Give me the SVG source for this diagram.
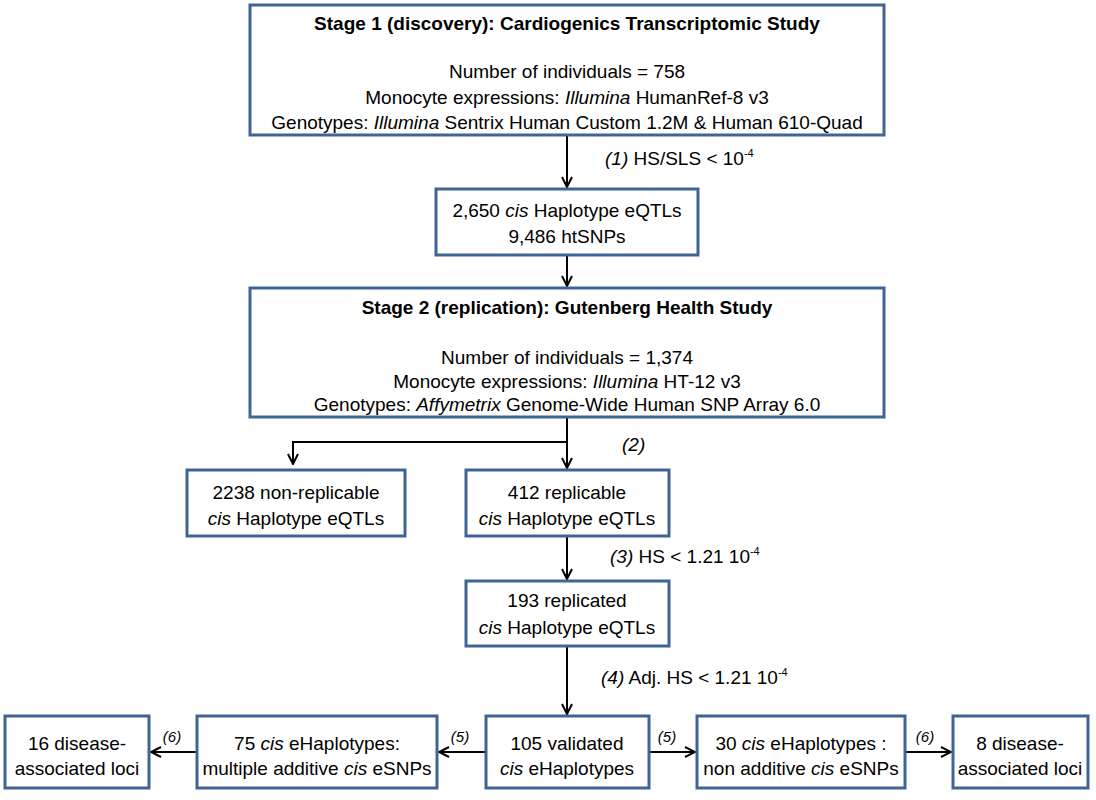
<svg xmlns="http://www.w3.org/2000/svg" width="1096" height="800" viewBox="0 0 1096 800">
<defs>
<marker id="ah" viewBox="0 0 12 12" refX="11" refY="6" markerWidth="12" markerHeight="12" markerUnits="userSpaceOnUse" orient="auto">
<path d="M1,1 L11,6 L1,11" fill="none" stroke="#000" stroke-width="2"/>
</marker>
<style>
rect{fill:#fff;stroke:#3f6495;stroke-width:3}
text{font-family:"Liberation Sans Narrow","Liberation Sans",Arial,sans-serif;font-size:19px;fill:#000;text-anchor:middle}
.b{font-weight:bold}
.l{text-anchor:start}
.s{font-size:15px;font-style:italic}
.c line,.c path{stroke:#000;stroke-width:2;fill:none}
tspan.i{font-style:italic}
</style>
</defs>
<g class="c">
<line x1="567" y1="135" x2="567" y2="187" marker-end="url(#ah)"/>
<line x1="567" y1="255" x2="567" y2="286" marker-end="url(#ah)"/>
<path d="M567,417 V442 H293 V464" marker-end="url(#ah)"/>
<line x1="567" y1="442" x2="567" y2="468" marker-end="url(#ah)"/>
<line x1="567" y1="535" x2="567" y2="579" marker-end="url(#ah)"/>
<line x1="567" y1="646" x2="567" y2="714" marker-end="url(#ah)"/>
<line x1="486" y1="752" x2="439" y2="752" marker-end="url(#ah)"/>
<line x1="197" y1="752" x2="151" y2="752" marker-end="url(#ah)"/>
<line x1="649" y1="752" x2="695" y2="752" marker-end="url(#ah)"/>
<line x1="905" y1="752" x2="951" y2="752" marker-end="url(#ah)"/>
<text x="605" y="165" class="l"><tspan class="i">(1)</tspan> HS/SLS &lt; 10<tspan font-size="11" dy="-8">-4</tspan></text>
<text x="622" y="451" class="l"><tspan class="i">(2)</tspan></text>
<text x="610" y="563" class="l"><tspan class="i">(3)</tspan> HS &lt; 1.21 10<tspan font-size="11" dy="-8">-4</tspan></text>
<text x="601" y="684" class="l"><tspan class="i">(4)</tspan>  Adj. HS &lt; 1.21 10<tspan font-size="11" dy="-8">-4</tspan></text>
<text x="460" y="742" class="s">(5)</text>
<text x="667" y="742" class="s">(5)</text>
<text x="172" y="742" class="s">(6)</text>
<text x="925" y="742" class="s">(6)</text>
</g>
<g id="stage1">
<rect x="250" y="5" width="634" height="130"/>
<text x="567" y="30" class="b">Stage 1 (discovery): Cardiogenics Transcriptomic Study</text>
<text x="567" y="78">Number of individuals  = 758</text>
<text x="567" y="104">Monocyte expressions: <tspan class="i">Illumina</tspan> HumanRef-8 v3</text>
<text x="567" y="129">Genotypes: <tspan class="i">Illumina</tspan> Sentrix Human Custom 1.2M &amp; Human 610-Quad</text>
</g>
<g id="haplo2650">
<rect x="436" y="189" width="262" height="66"/>
<text x="567" y="217">2,650 <tspan class="i">cis</tspan> Haplotype eQTLs</text>
<text x="567" y="243">9,486 htSNPs</text>
</g>
<g id="stage2">
<rect x="250" y="288" width="634" height="129"/>
<text x="567" y="314" class="b">Stage 2 (replication): Gutenberg Health Study</text>
<text x="567" y="364">Number of individuals  = 1,374</text>
<text x="567" y="388">Monocyte expressions: <tspan class="i">Illumina</tspan> HT-12 v3</text>
<text x="567" y="411">Genotypes: <tspan class="i">Affymetrix</tspan> Genome-Wide Human SNP Array 6.0</text>
</g>
<g id="nonrep">
<rect x="187" y="470" width="218" height="66"/>
<text x="296" y="499">2238 non-replicable</text>
<text x="296" y="525"><tspan class="i">cis</tspan> Haplotype eQTLs</text>
</g>
<g id="rep">
<rect x="466" y="470" width="203" height="66"/>
<text x="567" y="499">412 replicable</text>
<text x="567" y="525"><tspan class="i">cis</tspan> Haplotype eQTLs</text>
</g>
<g id="replicated">
<rect x="466" y="581" width="203" height="65"/>
<text x="567" y="607">193 replicated</text>
<text x="567" y="634"><tspan class="i">cis</tspan> Haplotype eQTLs</text>
</g>
<g id="loci16">
<rect x="5" y="716" width="144" height="72"/>
<text x="77" y="750">16  disease-</text>
<text x="77" y="775">associated loci</text>
</g>
<g id="e75">
<rect x="197" y="716" width="240" height="72"/>
<text x="317" y="750">75 <tspan class="i">cis</tspan> eHaplotypes:</text>
<text x="317" y="775">multiple additive <tspan class="i">cis</tspan> eSNPs</text>
</g>
<g id="v105">
<rect x="486" y="716" width="163" height="72"/>
<text x="567" y="750">105  validated</text>
<text x="567" y="775"><tspan class="i">cis</tspan> eHaplotypes</text>
</g>
<g id="e30">
<rect x="697" y="716" width="208" height="72"/>
<text x="801" y="750">30 <tspan class="i">cis</tspan> eHaplotypes :</text>
<text x="801" y="775">non additive <tspan class="i">cis</tspan> eSNPs</text>
</g>
<g id="loci8">
<rect x="953" y="716" width="135" height="72"/>
<text x="1020" y="750">8 disease-</text>
<text x="1020" y="775">associated loci</text>
</g>
</svg>
